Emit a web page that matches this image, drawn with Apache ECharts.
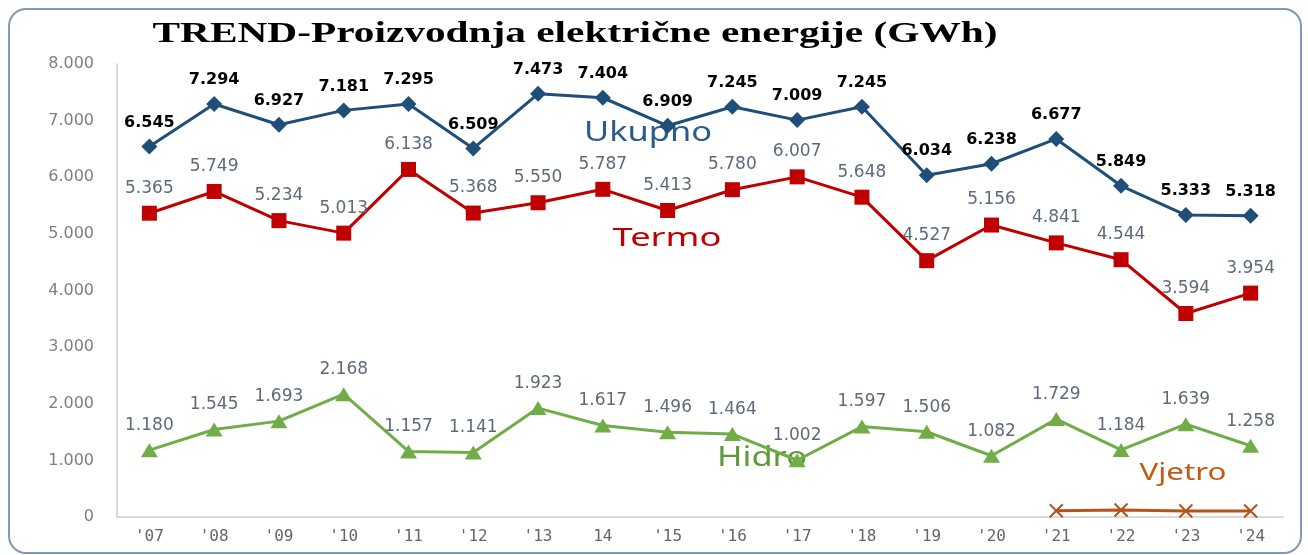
<!DOCTYPE html>
<html>
<head>
<meta charset="utf-8">
<script src="https://cdn.jsdelivr.net/npm/echarts@6/dist/echarts.min.js"></script>
<style>
  html, body { margin: 0; padding: 0; background: #fff; overflow: hidden; }
  .frame {
    position: absolute; left: 8px; top: 8px; width: 1294px; height: 546px;
    border: 2px solid #7f9ab4; border-radius: 18px; box-sizing: border-box;
  }
  #main { position: absolute; left: 0; top: 0; width: 1308px; height: 555px; }
</style>
</head>
<body>
<div class="frame"></div>
<div id="main"></div>
<script>
var years = ["'07","'08","'09","'10","'11","'12","'13","14","'15","'16","'17","'18","'19","'20","'21","'22","'23","'24"]
var ukupno = [6545,7294,6927,7181,7295,6509,7473,7404,6909,7245,7009,7245,6034,6238,6677,5849,5333,5318]
var termo = [5365,5749,5234,5013,6138,5368,5550,5787,5413,5780,6007,5648,4527,5156,4841,4544,3594,3954]
var hidro = [1180,1545,1693,2168,1157,1141,1923,1617,1496,1464,1002,1597,1506,1082,1729,1184,1639,1258]
var vjetro = [null,null,null,null,null,null,null,null,null,null,null,null,null,null,110,125,105,105]
var yTicks = [0,1000,2000,3000,4000,5000,6000,7000,8000]

var title = 'TREND-Proizvodnja električne energije (GWh)'

// thousands with a dot, as in the original
function fmt(v){
    return String(v).replace(/\B(?=(\d{3})+(?!\d))/g, '.')
}

// the original picture is stretched sideways, so texts get a scaleX to fit
var measure = document.createElement('canvas').getContext('2d')
function stretched(text, font, width, cx, cy, color){
    measure.font = font
    var w = measure.measureText(text).width
    return {
        type: 'text',
        x: cx, y: cy,
        scaleX: width / w,
        style: { text: text, font: font, fill: color, align: 'center', verticalAlign: 'middle' }
    }
}

var chartDom = document.getElementById('main')
var myChart = echarts.init(chartDom)

var grayLabel = { show: true, position: 'top', distance: 9, color: '#5f6a78', fontSize: 17, fontFamily: 'DejaVu Sans', formatter: function(p){ return fmt(p.value) } }

var option = {
    animation: false,
    grid: { left: 117, right: 25, top: 64, bottom: 38 },
    graphic: [
        stretched(title, 'bold 30px "Liberation Serif"', 845, 575, 34, '#000'),
        stretched('Ukupno', '27px "Noto Sans"', 128, 648, 133, '#2b5d8c'),
        stretched('Termo', '25px "Noto Sans"', 109, 667, 239, '#c00000'),
        stretched('Hidro', '28px "Noto Sans"', 90, 762, 458, '#5f9a3a'),
        stretched('Vjetro', '23px "Noto Sans"', 87, 1183, 473, '#c55a11')
    ],
    xAxis: {
        type: 'category',
        data: years,
        axisLine: { lineStyle: { color: '#d9d9d9', width: 2 } },
        axisTick: { show: false },
        axisLabel: { color: '#666', fontSize: 16, fontFamily: 'DejaVu Sans Mono', margin: 12 }
    },
    yAxis: {
        type: 'value',
        min: yTicks[0],
        max: yTicks[yTicks.length - 1],
        interval: 1000,
        axisLine: { show: true, lineStyle: { color: '#d9d9d9', width: 2 } },
        splitLine: { show: false },
        axisLabel: { color: '#7f7f7f', fontSize: 16, fontFamily: 'DejaVu Sans', margin: 23, formatter: fmt }
    },
    series: [
        {
            name: 'Ukupno', type: 'line', data: ukupno,
            symbol: 'diamond', symbolSize: 16,
            lineStyle: { color: '#1f4e79', width: 3 },
            itemStyle: { color: '#1f4e79' },
            label: { show: true, position: 'top', distance: 8, color: '#000', fontSize: 16, fontWeight: 'bold', fontFamily: 'DejaVu Sans', formatter: function(p){ return fmt(p.value) } }
        },
        {
            name: 'Termo', type: 'line', data: termo,
            symbol: 'rect', symbolSize: 15,
            lineStyle: { color: '#c00000', width: 3 },
            itemStyle: { color: '#c00000' },
            label: grayLabel
        },
        {
            name: 'Hidro', type: 'line', data: hidro,
            symbol: 'triangle', symbolSize: [17, 14],
            lineStyle: { color: '#70ad47', width: 3 },
            itemStyle: { color: '#70ad47' },
            label: grayLabel
        },
        {
            name: 'Vjetro', type: 'line', data: vjetro,
            symbol: 'path://M0,0L10,10M10,0L0,10', symbolSize: 13,
            lineStyle: { color: '#b5531a', width: 3 },
            itemStyle: { color: 'none', borderColor: '#b5531a', borderWidth: 2 }
        }
    ]
}

option && myChart.setOption(option)
</script>
</body>
</html>
